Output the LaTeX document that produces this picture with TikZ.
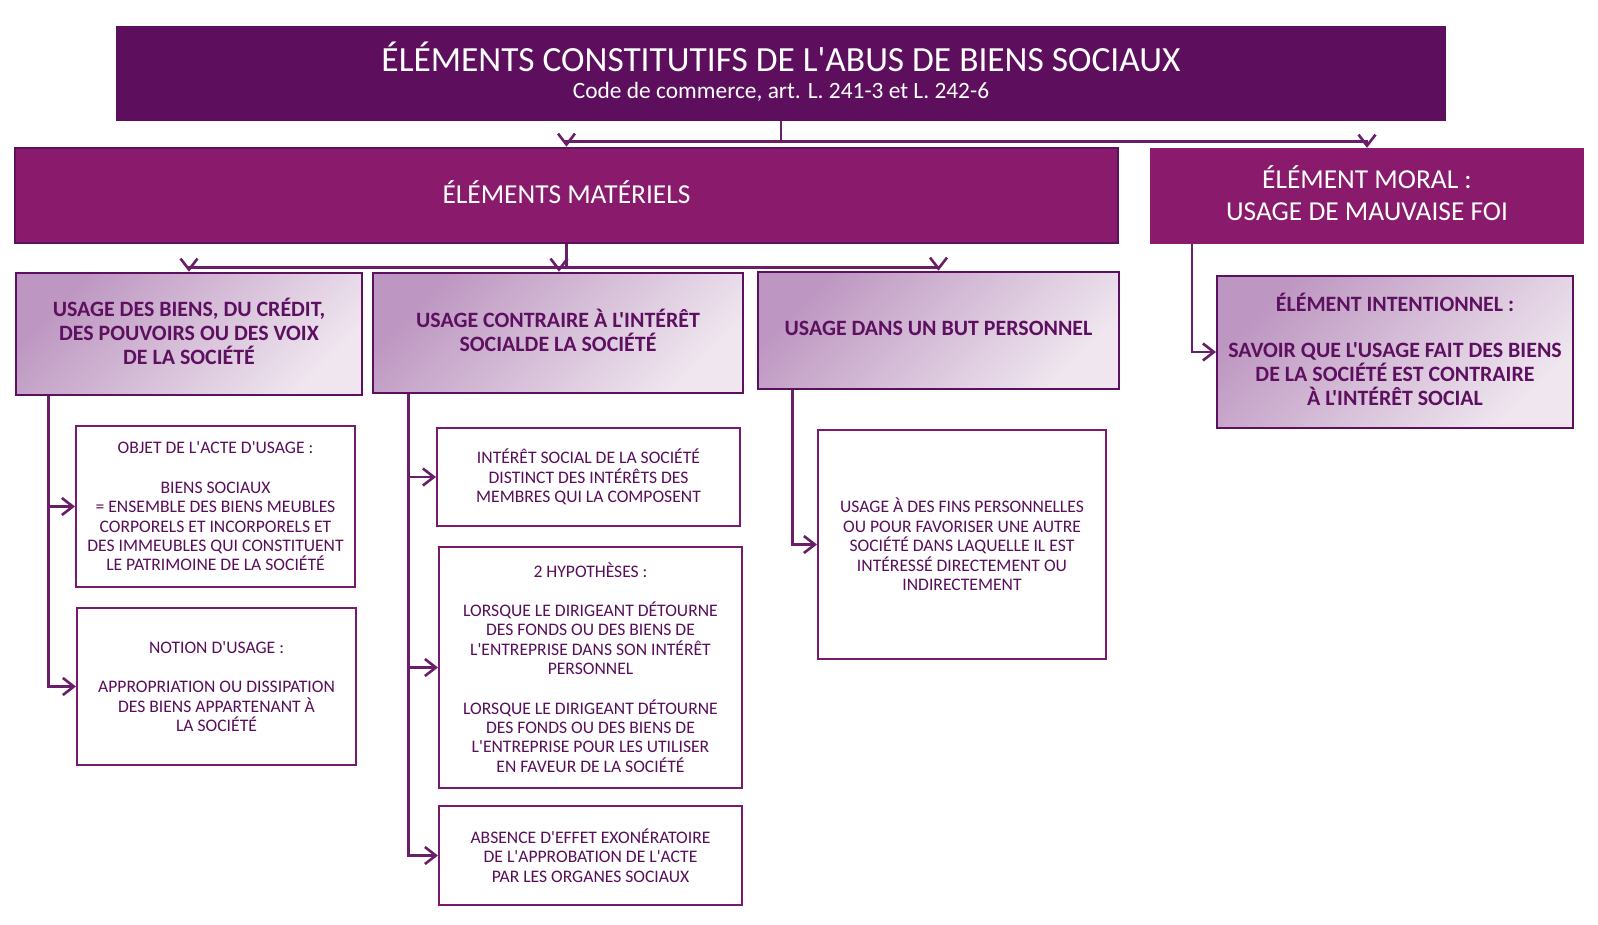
\documentclass[tikz,border=0pt]{standalone}
\usepackage{fontspec}
\setmainfont{Carlito}[Ligatures=TeXOff]
\usetikzlibrary{arrows.meta}
\definecolor{dpurple}{HTML}{5D0F5D}
\definecolor{mpurple}{HTML}{8A1A6C}
\definecolor{bord}{HTML}{5E1060}
\definecolor{txt}{HTML}{5E1060}
\definecolor{txtthree}{HTML}{580E5A}
\definecolor{gradA}{HTML}{BD96C1}
\definecolor{gradB}{HTML}{EFE6EF}
\definecolor{thinb}{HTML}{7A1A6E}
\definecolor{conncol}{HTML}{6A1D69}
\begin{document}
\begin{tikzpicture}[x=1pt,y=-1pt,
  titlebox/.style={fill=dpurple, draw=none, text=white, align=center, inner sep=0pt},
  lvlone/.style={fill=mpurple, text=white, align=center, inner sep=0pt, text depth=6pt, font=\fontsize{27.4}{32}\selectfont},
  lvltwo/.style={draw=bord, line width=2.6pt, top color=gradA, bottom color=gradB, shading angle=45,
     text=txt, align=center, inner sep=0pt, text depth=5pt, font=\bfseries\fontsize{21.9}{24}\selectfont},
  lvlthree/.style={draw=thinb, line width=2pt, fill=white, text=txtthree, align=center, inner sep=0pt,
     font=\fontsize{17.6}{19.4}\selectfont},
  conn/.style={draw=conncol, line width=2.6pt, -{Straight Barb[length=11pt,width=17pt]}}
]
\useasboundingbox (0,0) rectangle (1598,924);

% title
\node[titlebox, minimum width=1330pt, minimum height=95pt] (title) at (781,73.5) {};
\node[text=white, inner sep=0pt, font=\fontsize{35.4}{40}\selectfont] (ttxt) at (781,57) {ÉLÉMENTS CONSTITUTIFS DE L'ABUS DE BIENS SOCIAUX};
\node[text=white, inner sep=0pt, font=\fontsize{23.4}{28}\selectfont] (tsub) at (781,92) {Code de commerce, art. L. 241-3 et L. 242-6};

% level one
\node[lvlone, draw=bord, line width=2.6pt, minimum width=1103pt, minimum height=95pt] (mat) at (566.5,195.5) {ÉLÉMENTS MATÉRIELS};
\node[lvlone, minimum width=434pt, minimum height=96pt] (moral) at (1367,196) {ÉLÉMENT MORAL :\\USAGE DE MAUVAISE FOI};

% level two
\node[lvltwo, minimum width=346pt, minimum height=122pt] (A) at (189,334) {USAGE DES BIENS, DU CRÉDIT,\\DES POUVOIRS OU DES VOIX\\DE LA SOCIÉTÉ};
\node[lvltwo, minimum width=370pt, minimum height=120pt] (B) at (558,333) {USAGE CONTRAIRE À L'INTÉRÊT\\SOCIALDE LA SOCIÉTÉ};
\node[lvltwo, minimum width=361pt, minimum height=117pt] (C) at (938.5,330.5) {USAGE DANS UN BUT PERSONNEL};
\node[lvltwo, line width=2pt, minimum width=356pt, minimum height=152pt] (D) at (1395,352) {ÉLÉMENT INTENTIONNEL :\\[22pt]SAVOIR QUE L'USAGE FAIT DES BIENS\\DE LA SOCIÉTÉ EST CONTRAIRE\\À L'INTÉRÊT SOCIAL};

% level three
\node[lvlthree, minimum width=279pt, minimum height=161pt] (A1) at (215.5,506.5) {OBJET DE L'ACTE D'USAGE :\\[20pt]BIENS SOCIAUX\\= ENSEMBLE DES BIENS MEUBLES\\CORPORELS ET INCORPORELS ET\\DES IMMEUBLES QUI CONSTITUENT\\LE PATRIMOINE DE LA SOCIÉTÉ};
\node[lvlthree, minimum width=279pt, minimum height=157pt] (A2) at (216.5,686.5) {NOTION D'USAGE :\\[20pt]APPROPRIATION OU DISSIPATION\\DES BIENS APPARTENANT À\\LA SOCIÉTÉ};
\node[lvlthree, minimum width=303pt, minimum height=98pt] (B1) at (588.5,477) {INTÉRÊT SOCIAL DE LA SOCIÉTÉ\\DISTINCT DES INTÉRÊTS DES\\MEMBRES QUI LA COMPOSENT};
\node[lvlthree, minimum width=303pt, minimum height=241pt] (B2) at (590.5,667.5) {2 HYPOTHÈSES :\\[20pt]LORSQUE LE DIRIGEANT DÉTOURNE\\DES FONDS OU DES BIENS DE\\L'ENTREPRISE DANS SON INTÉRÊT\\PERSONNEL\\[20pt]LORSQUE LE DIRIGEANT DÉTOURNE\\DES FONDS OU DES BIENS DE\\L'ENTREPRISE POUR LES UTILISER\\EN FAVEUR DE LA SOCIÉTÉ};
\node[lvlthree, minimum width=303pt, minimum height=99pt] (B3) at (590.5,855.5) {ABSENCE D'EFFET EXONÉRATOIRE\\DE L'APPROBATION DE L'ACTE\\PAR LES ORGANES SOCIAUX};
\node[lvlthree, minimum width=288pt, minimum height=229pt] (C1) at (962,544.5) {USAGE À DES FINS PERSONNELLES\\OU POUR FAVORISER UNE AUTRE\\SOCIÉTÉ DANS LAQUELLE IL EST\\INTÉRESSÉ DIRECTEMENT OU\\INDIRECTEMENT};

% connectors from title
\draw[conn] (title.south) -- ++(0,20) -| (mat.north);
\draw[conn] (title.south) -- ++(0,20) -| (moral.north);

% connectors from materiel
\draw[conn] (mat.south) -- ++(0,23) -| (A.north);
\draw[conn] (mat.south) -- ++(0,23) -| ([xshift=1pt]B.north);
\draw[conn] (mat.south) -- ++(0,23) -| (C.north);

% moral to D
\coordinate (mst) at ([xshift=42pt]moral.south west);
\draw[conn] (mst) |- (D.west);

% A stem
\coordinate (ast) at ([xshift=34pt]A.south west);
\draw[conn] (ast) |- (A1.west);
\draw[conn] (ast) |- (A2.west);

% B stem
\coordinate (bst) at ([xshift=37pt]B.south west);
\draw[conn] (bst) |- (B1.west);
\draw[conn] (bst) |- (B2.west);
\draw[conn] (bst) |- (B3.west);

% C stem
\coordinate (cst) at ([xshift=36pt]C.south west);
\draw[conn] (cst) |- (C1.west);
\end{tikzpicture}
\end{document}
